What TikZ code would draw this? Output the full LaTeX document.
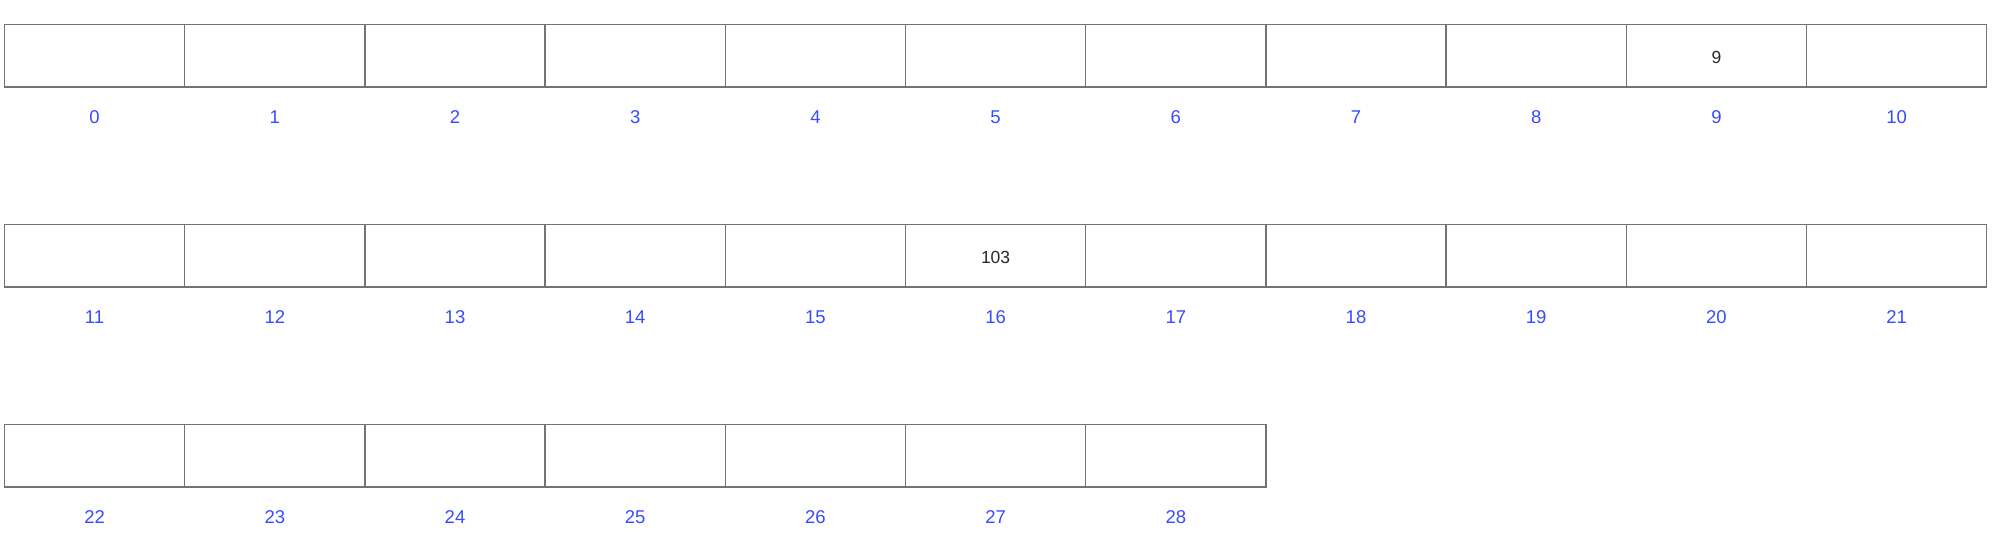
\documentclass[tikz,border=0pt]{standalone}
\usepackage{fontspec}
\setmainfont{Liberation Sans}
\definecolor{cellline}{RGB}{115,115,115}
\definecolor{idxblue}{RGB}{55,75,255}
\definecolor{valtext}{RGB}{40,40,40}
\begin{document}
\begin{tikzpicture}[x=1pt,y=1pt,
  cell/.style={draw=cellline,line width=1.4pt,minimum width=180.2pt,minimum height=62.5pt,inner sep=0pt,text=valtext},
  val/.style={font=\fontsize{17.5}{20}\selectfont,text=valtext,inner sep=0pt,anchor=base},
  idx/.style={font=\fontsize{18.5}{20}\selectfont,text=idxblue,inner sep=0pt,anchor=base}]
\useasboundingbox (0,0) rectangle (1996,-542);
\foreach \i in {0,...,28}{
  \pgfmathtruncatemacro{\r}{int(\i/11)}
  \pgfmathtruncatemacro{\c}{\i-11*\r}
  \pgfmathsetmacro{\xc}{4.5+180.2*(\c+0.5)}
  \pgfmathsetmacro{\yc}{-(55.75+200*\r)}
  \pgfmathsetmacro{\yl}{-(123.8+200*\r)}
  \node[cell] (c\i) at (\xc,\yc) {};
  \node[idx] (l\i) at (\xc,\yl) {\i};
}
\node[val] (v9) at ([yshift=-7.3pt]c9.center) {9};
\node[val] (v16) at ([yshift=-7.8pt]c16.center) {103};
\end{tikzpicture}
\end{document}
